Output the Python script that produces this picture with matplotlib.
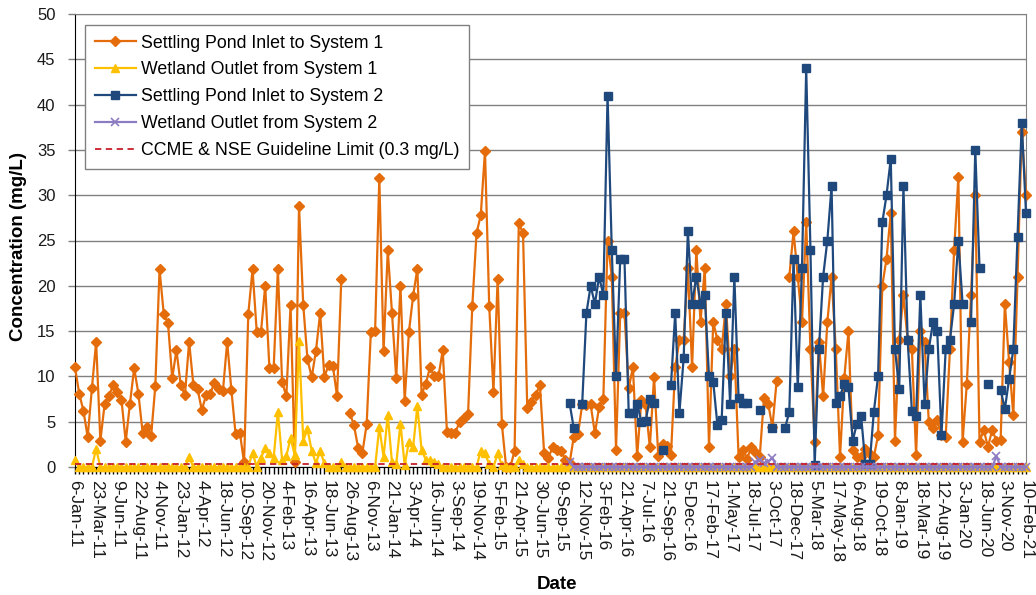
import numpy as np
import matplotlib
matplotlib.use('Agg')
import matplotlib.pyplot as plt
from matplotlib.ticker import FixedLocator

nan = np.nan

# category axis: one label every 5 samples
tick_dates = ['6-Jan-11', '23-Mar-11', '9-Jun-11', '22-Aug-11', '4-Nov-11',
              '23-Jan-12', '4-Apr-12', '18-Jun-12', '10-Sep-12', '20-Nov-12',
              '4-Feb-13', '16-Apr-13', '18-Jun-13', '26-Aug-13', '6-Nov-13',
              '21-Jan-14', '3-Apr-14', '16-Jun-14', '3-Sep-14', '19-Nov-14',
              '5-Feb-15', '21-Apr-15', '30-Jun-15', '9-Sep-15', '12-Nov-15',
              '3-Feb-16', '21-Apr-16', '7-Jul-16', '21-Sep-16', '5-Dec-16',
              '17-Feb-17', '1-May-17', '18-Jul-17', '3-Oct-17', '18-Dec-17',
              '5-Mar-18', '17-May-18', '6-Aug-18', '19-Oct-18', '8-Jan-19',
              '18-Mar-19', '12-Aug-19', '3-Jan-20', '18-Jun-20', '3-Nov-20',
              '10-Feb-21']

# Settling Pond Inlet to System 1 (mg/L)
inlet_1 = [
    11.0, 8.1, 6.2, 3.3, 8.7, 13.8, 2.9, 6.9, 7.8, 9.0,
    8.3, 7.4, 2.8, 7.0, 10.9, 8.1, 3.8, 4.4, 3.4, 8.9,
    21.8, 16.9, 15.9, 9.8, 12.9, 9.1, 7.9, 13.8, 9.1, 8.6,
    6.3, 7.9, 8.1, 9.3, 8.6, 8.4, 13.8, 8.5, 3.6, 3.8,
    0.5, 16.9, 21.8, 14.9, 14.9, 20.0, 10.9, 10.9, 21.8, 9.4,
    7.8, 17.9, 0.5, 28.8, 17.9, 11.9, 9.9, 12.8, 17.0, 9.9,
    11.3, 11.2, 7.8, 20.7, nan, 6.0, 4.6, 2.1, 1.6, 4.7,
    14.9, 15.0, 31.9, 12.8, 23.9, 17.0, 9.8, 20.0, 7.3, 14.9,
    18.9, 21.9, 8.0, 9.2, 11.0, 10.0, 10.0, 12.9, 3.9, 3.8,
    3.8, 5.0, 5.4, 5.9, 17.8, 25.8, 27.8, 34.9, 17.8, 8.3,
    20.8, 4.7, 0.0, 0.0, 1.8, 26.9, 25.8, 6.5, 7.2, 8.0,
    9.0, 1.5, 1.0, 2.2, 1.9, 1.8, 0.8, 0.4, 3.3, 3.6,
    6.9, 6.8, 6.9, 3.7, 6.6, 7.5, 25.0, 21.0, 1.9, 17.0,
    17.0, 8.7, 11.0, 1.2, 7.4, 6.8, 2.2, 9.9, 1.2, 2.5,
    2.3, 1.3, 11.0, 14.0, 14.0, 22.0, 11.0, 24.0, 16.0, 22.0,
    2.2, 16.0, 14.0, 13.0, 18.0, 10.0, 13.0, 1.1, 1.9, 0.9,
    2.2, 1.7, 1.1, 7.6, 7.0, 4.4, 9.5, nan, nan, 21.0,
    26.0, 21.0, 16.0, 27.0, 13.0, 2.8, 13.8, 7.8, 16.0, 21.0,
    13.0, 1.1, 9.8, 15.0, 1.9, 1.1, 1.1, 2.0, 1.4, 1.1,
    3.5, 20.0, 23.0, 28.0, 2.9, 14.0, 19.0, 14.0, 13.0, 1.3,
    15.0, 13.8, 5.0, 4.3, 5.2, 3.5, 3.3, 13.0, 24.0, 32.0,
    2.8, 9.2, 19.0, 30.0, 2.8, 4.1, 2.2, 4.1, 2.9, 3.0,
    18.0, 11.6, 5.7, 21.0, 37.0, 30.0,
]

# Wetland Outlet from System 1 (mg/L)
outlet_1 = [
    0.8, 0, 0, 0, 0, 2.0, 0, 0, 0, 0,
    0, 0, 0, 0, 0, 0, 0, 0, 0, 0,
    0, 0, 0, 0, 0, 0, 0, 1.1, 0, 0,
    0, 0, 0, 0, 0, 0, 0, 0, 0, 0,
    0, 0, 1.6, 0, 1.0, 2.1, 1.6, 1.0, 6.1, 0.8,
    1.2, 3.2, 1.3, 13.9, 2.9, 4.2, 1.8, 0.4, 1.8, 0.4,
    0, 0, 0, 0.6, 0, 0, 0, 0, 0, 0,
    0, 0, 4.4, 1.1, 5.7, 0.5, 0.3, 4.8, 0.2, 2.8,
    2.2, 6.7, 1.9, 0.8, 0.8, 0.6, 0.3, 0, 0, 0,
    0, 0, 0, 0, 0, 0, 1.8, 1.5, 0.3, 0,
    1.5, 0.2, 0, 0, 0, 0.8, 0.3, 0, 0, 0,
    0, 0, 0, 0, 0, 0, 0, 0, 0, 0,
    0, 0, 0, 0, 0, 0, 0, 0, 0, 0,
    0, 0, 0, 0, 0, 0, 0, 0, 0, 0,
    0, 0, 0, 0, 0, 0, 0, 0, 0, 0,
    0, 0, 0, 0, 0, 0, 0, 0, 0, 0,
    0, 0, 0, 0, 0, 0, 0, 0, 0, 0,
    0, 0, 0, 0, 0, 0, 0, 0, 0, 0,
    0, 0, 0, 0, 0, 0, 0, 0, 0, 0,
    0, 0, 0, 0, 0, 0, 0, 0, 0, 0,
    0, 0, 0, 0, 0, 0, 0, 0, 0, 0,
    0, 0, 0, 0, 0, 0, 0, 0, 0, 0,
    0, 0, 0, 0, 0, 0,
]

# Settling Pond Inlet to System 2 (mg/L), sampling starts late 2015
inlet_2 = [
    nan, nan, nan, nan, nan, nan, nan, nan, nan, nan,
    nan, nan, nan, nan, nan, nan, nan, nan, nan, nan,
    nan, nan, nan, nan, nan, nan, nan, nan, nan, nan,
    nan, nan, nan, nan, nan, nan, nan, nan, nan, nan,
    nan, nan, nan, nan, nan, nan, nan, nan, nan, nan,
    nan, nan, nan, nan, nan, nan, nan, nan, nan, nan,
    nan, nan, nan, nan, nan, nan, nan, nan, nan, nan,
    nan, nan, nan, nan, nan, nan, nan, nan, nan, nan,
    nan, nan, nan, nan, nan, nan, nan, nan, nan, nan,
    nan, nan, nan, nan, nan, nan, nan, nan, nan, nan,
    nan, nan, nan, nan, nan, nan, nan, nan, nan, nan,
    nan, nan, nan, nan, nan, nan, nan, 7.1, 4.3, nan,
    7.0, 17.0, 20.0, 18.0, 21.0, 19.0, 41.0, 24.0, 10.0, 23.0,
    23.0, 6.0, 6.0, 7.0, 5.0, 5.1, 7.5, 7.1, nan, 1.9,
    nan, 9.0, 17.0, 6.0, 12.0, 26.0, 18.0, 21.0, 18.0, 19.0,
    10.0, 9.4, 4.6, 5.2, 17.0, 7.0, 21.0, 7.6, 7.1, 7.1,
    nan, nan, 6.3, nan, nan, 4.3, nan, nan, 4.3, 6.1,
    23.0, 8.8, 22.0, 44.0, 24.0, 0.2, 13.0, 21.0, 25.0, 31.0,
    7.1, 7.8, 9.2, 8.8, 2.9, 4.8, 5.6, 0.3, 0.3, 6.1,
    10.0, 27.0, 30.0, 34.0, 13.0, 8.6, 31.0, 14.0, 6.2, 5.6,
    19.0, 7.0, 13.0, 16.0, 15.0, 3.5, 13.0, 14.0, 18.0, 25.0,
    18.0, nan, 16.0, 35.0, 22.0, nan, 9.2, nan, nan, 8.5,
    6.4, 9.7, 13.0, 25.4, 38.0, 28.0,
]

# Wetland Outlet from System 2 (mg/L)
outlet_2 = [
    nan, nan, nan, nan, nan, nan, nan, nan, nan, nan,
    nan, nan, nan, nan, nan, nan, nan, nan, nan, nan,
    nan, nan, nan, nan, nan, nan, nan, nan, nan, nan,
    nan, nan, nan, nan, nan, nan, nan, nan, nan, nan,
    nan, nan, nan, nan, nan, nan, nan, nan, nan, nan,
    nan, nan, nan, nan, nan, nan, nan, nan, nan, nan,
    nan, nan, nan, nan, nan, nan, nan, nan, nan, nan,
    nan, nan, nan, nan, nan, nan, nan, nan, nan, nan,
    nan, nan, nan, nan, nan, nan, nan, nan, nan, nan,
    nan, nan, nan, nan, nan, nan, nan, nan, nan, nan,
    nan, nan, nan, nan, nan, nan, nan, nan, nan, nan,
    nan, nan, nan, nan, nan, nan, nan, 0.5, 0, 0,
    0, 0, 0, 0, 0, 0, 0, 0, 0, 0,
    0, 0, 0, 0, 0, 0, 0, 0, 0, 0,
    0, 0, 0, 0, 0, 0, 0, 0, 0, 0,
    0, 0, 0, 0, 0, 0, 0, 0, 0, 0,
    0, 0.5, 0.8, 0.4, 0.6, 1.0, 0, 0, 0, 0,
    0, 0, 0, 0, 0, 0, 0, 0, 0, 0,
    0, 0, 0, 0, 0, 0, 0, 0, 0, 0,
    0, 0, 0, 0, 0, 0, 0, 0, 0, 0,
    0, 0, 0, 0, 0, 0, 0, 0, 0, 0,
    0, 0, 0, 0, 0, 0, 0, 0, 1.2, 0,
    0, 0, 0, 0, 0, 0,
]

guideline = 0.3

plt.rcParams['font.family'] = ['Liberation Sans', 'DejaVu Sans']

fig = plt.figure(figsize=(10.36, 5.95), dpi=100)
ax = fig.add_axes([75 / 1036, 1 - 467 / 595, 951 / 1036, 453 / 595])

x = np.arange(len(inlet_1))

ax.plot(x, inlet_1, color='#E46C0A', lw=1.6, marker='D', ms=4.8,
        label='Settling Pond Inlet to System 1', clip_on=False, zorder=3)
ax.plot(x, outlet_1, color='#FFC000', lw=1.6, marker='^', ms=6,
        label='Wetland Outlet from System 1', clip_on=False, zorder=4)
ax.plot(x, inlet_2, color='#1F497D', lw=1.6, marker='s', ms=5.2,
        label='Settling Pond Inlet to System 2', clip_on=False, zorder=5)
ax.plot(x, outlet_2, color='#8E7CC3', lw=1.6, marker='x', ms=6, mew=1.2,
        label='Wetland Outlet from System 2', clip_on=False, zorder=6)
ax.axhline(guideline, color='#C8202A', lw=1.3, ls=(0, (3.5, 2.5)),
           label='CCME & NSE Guideline Limit (0.3 mg/L)', zorder=7)

ax.set_xlim(0, len(inlet_1) - 1)
ax.set_ylim(0, 50)
ax.set_yticks(np.arange(0, 51, 5))
ax.grid(axis='y', color='#808080', lw=1.0)
ax.set_axisbelow(True)

major = list(range(0, len(inlet_1), 5))
ax.xaxis.set_major_locator(FixedLocator(major))
ax.xaxis.set_minor_locator(FixedLocator(list(x)))
ax.set_xticklabels(tick_dates, rotation=-90, fontsize=12.5, color='#1a1a1a')
ax.tick_params(axis='x', which='both', length=5, width=1, color='black', pad=4)
ax.tick_params(axis='y', length=5, width=1, color='#808080', pad=9,
               labelsize=12, labelcolor='#1a1a1a')

for side in ['top', 'right']:
    ax.spines[side].set_color('#808080')
ax.spines['left'].set_color('black')
ax.spines['bottom'].set_color('black')

ax.set_ylabel('Concentration (mg/L)', fontsize=13.5, fontweight='bold')
ax.yaxis.set_label_coords(-0.050, 0.486)
ax.set_xlabel('Date', fontsize=13.5, fontweight='bold')
ax.xaxis.set_label_coords(0.507, -0.24)

leg = ax.legend(loc='upper left', bbox_to_anchor=(0.0105, 0.976), borderaxespad=0,
                fontsize=12.8, frameon=True, fancybox=False, framealpha=1,
                edgecolor='#808080', handlelength=2.33, handletextpad=0.28,
                labelspacing=0.55, borderpad=0.55, numpoints=1)
leg.get_frame().set_linewidth(1.0)

fig.savefig('out.png', dpi=100)
